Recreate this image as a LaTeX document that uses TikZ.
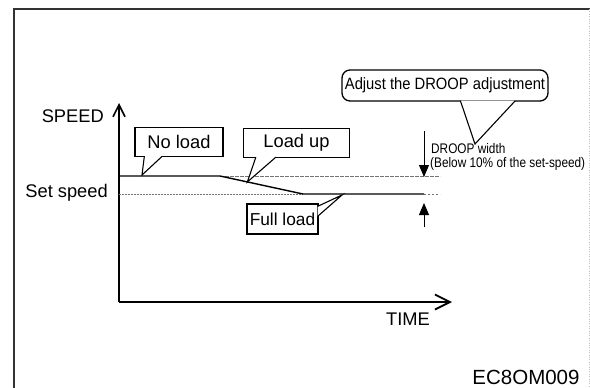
\documentclass[tikz,border=0pt]{standalone}
\usepackage{fontspec}
\setmainfont{Liberation Sans}
\newfontfamily\narrowfont[FakeStretch=0.9]{Liberation Sans}
\newfontfamily\droopfont[FakeStretch=0.85]{Liberation Sans}
\usepackage{tikz}
\usetikzlibrary{arrows.meta,calc}

\begin{document}
\begin{tikzpicture}[x=1pt,y=-1pt,
  axis/.style={line width=2.2pt},
  speed/.style={line width=1.4pt},
  guide/.style={black!55,line width=0.8pt},
  lbl/.style={font=\fontsize{18.3}{20}\selectfont,inner sep=0pt},
  droop/.style={font=\droopfont\fontsize{13.9}{15}\selectfont,inner sep=0pt,anchor=base west},
  bubble/.style={draw,line width=1.3pt,fill=white,inner sep=0pt,lbl},
  pointer/.style={fill=white,draw,line width=1.1pt},
  droopline/.style={line width=0.9pt,-{Triangle[length=12pt,width=10pt]}}]
  \useasboundingbox (0,0) rectangle (590,388);
  % ---- frame
  \draw[line width=1.2pt,black!80] (14,388) -- (14,9) -- (590,9);
  \draw[black!25,dotted] (589,9) -- (589,388);
  % ---- axes
  \coordinate (o) at (119,302);
  \coordinate (ytop) at (119,103);
  \coordinate (xend) at (452,302);
  \draw[axis,-{Straight Barb[length=12pt,width=12pt,line width=1.6pt]}] (o) -- (ytop);
  \draw[axis,-{Straight Barb[length=15pt,width=15pt,line width=1.8pt]}] (o) -- (xend);
  \node[lbl,anchor=east] (speedlbl) at (104,116) {SPEED};
  \node[lbl,anchor=east] (setlbl) at (108,193) {Set speed};
  \node[lbl] (timelbl) at (408,319) {TIME};
  \node[lbl,font=\fontsize{20.5}{22}\selectfont] (code) at (526,377) {EC8OM009};
  % ---- speed curve
  \coordinate (hi) at (119,176);
  \coordinate (s1) at (220,176);
  \coordinate (s2) at (303,194);
  \coordinate (lo) at (424,194);
  \coordinate (loend) at (440,194);
  \coordinate (hiend) at (440,176);
  \coordinate (set) at (119,194);
  \draw[guide,dash pattern=on 4pt off 1pt] (s1) -- (hiend);
  \draw[guide,dash pattern=on 1.5pt off 1.5pt] (set) -- (s2);
  \draw[guide,dash pattern=on 2pt off 2pt] (lo) -- (loend);
  \draw[speed] (hi) -- (s1) -- (s2) -- (lo);
  % ---- droop width
  \coordinate (dtop) at (424,131);
  \coordinate (dhi) at (424,177);
  \coordinate (dbot) at (424,227);
  \coordinate (dlo) at (424,203);
  \draw[droopline] (dtop) -- (dhi);
  \draw[droopline] (dbot) -- (dlo);
  \node[droop] (droopw) at (431,153) {DROOP width};
  \node[droop] (droopb) at (430,167.5) {(Below 10\% of the set-speed)};
  % ---- call-outs
  \node[bubble,minimum width=88pt,minimum height=29pt] (noload) at (179,142) {No load};
  \node[bubble,minimum width=106pt,minimum height=29pt] (loadup) at (296.5,143) {Load up};
  \node[bubble,minimum width=71pt,minimum height=30pt,font=\fontsize{17.3}{19}\selectfont] (fullload) at (282.5,219) {Full load};
  \node[bubble,rounded corners=8pt,minimum width=206pt,minimum height=31pt,
    font=\narrowfont\fontsize{16.4}{18}\selectfont] (adjust) at (445,85.5) {Adjust the DROOP adjustment};
  \coordinate (tnl) at (142,175);
  \coordinate (tlu) at ($(s1)!0.33!(s2)$);
  \coordinate (tfl) at (342,195);
  \coordinate (tad) at (475,144);
  \path[pointer] ($(noload.south west)+(10,-1)$) -- (tnl) -- ($(noload.south west)+(28,-1)$);
  \path[pointer] ($(loadup.south west)+(13,-1)$) -- (tlu) -- ($(loadup.south west)+(33,-1)$);
  \path[pointer] ($(fullload.north east)+(-1,3)$) -- (tfl) -- ($(fullload.north east)+(-1,13)$);
  \path[pointer] ($(adjust.south west)+(119,-1)$) -- (tad) -- ($(adjust.south west)+(174,-1)$);
\end{tikzpicture}
\end{document}
